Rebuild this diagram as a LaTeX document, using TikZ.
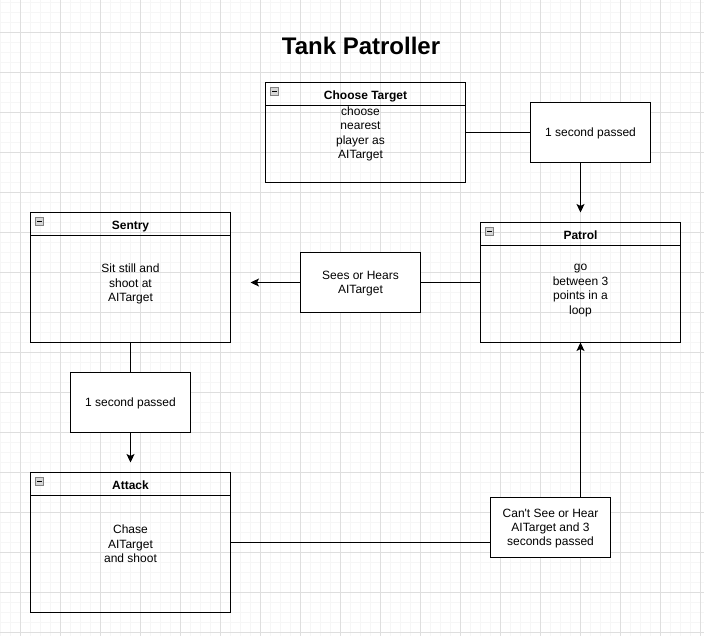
\documentclass[tikz,border=0pt]{standalone}
\usepackage{fontspec}
\setmainfont{Liberation Sans}
\usetikzlibrary{arrows.meta}
\definecolor{gridminor}{RGB}{246,246,246}
\definecolor{gridmajor}{RGB}{222,222,222}
\definecolor{iconfill}{RGB}{215,215,215}
\definecolor{iconborder}{RGB}{130,130,130}
\begin{document}
\begin{tikzpicture}[x=1pt,y=-1pt,
  lane/.style={draw, line width=1pt, minimum width=200pt, inner sep=0pt, outer sep=0pt, anchor=north west},
  lanehead/.style={font=\fontsize{12}{14.4}\selectfont\bfseries, text height=9pt, text depth=0pt, inner sep=0pt},
  lanebody/.style={font=\fontsize{12}{14.4}\selectfont, align=center, inner sep=0pt},
  trans/.style={draw, fill=white, line width=1pt, minimum width=120pt, minimum height=60pt, inner sep=0pt, outer sep=0pt, align=center, font=\fontsize{12}{14.4}\selectfont},
  transtext/.style={yshift=-1pt},
  icon/.style={draw=iconborder, fill=iconfill, line width=0.8pt, minimum size=8pt, inner sep=0pt, outer sep=0pt, anchor=north west},
  conn/.style={line width=1pt},
  arr/.style={line width=1pt, -{Stealth[length=8.5pt,width=8pt,inset=2pt]}},
  headline/.style={line width=1pt},
  minus/.style={line width=1.2pt},
]
\useasboundingbox (0,0) rectangle (704,636);
\fill[white] (0,0) rectangle (704,636);
% grid
\foreach \x in {0,10,...,700} \draw[gridminor, line width=1pt] (\x+0.5,0) -- (\x+0.5,636);
\foreach \y in {2,12,...,632} \draw[gridminor, line width=1pt] (0,\y+0.5) -- (704,\y+0.5);
\foreach \x in {20,60,...,700} \draw[gridmajor, line width=1pt] (\x+0.5,0) -- (\x+0.5,636);
\foreach \y in {32,72,...,632} \draw[gridmajor, line width=1pt] (0,\y+0.5) -- (704,\y+0.5);

% title
\node[font=\fontsize{24}{28}\selectfont\bfseries, anchor=base, inner sep=0pt] (title) at (361,55) {Tank Patroller};

% Choose Target lane
\node[lane, minimum height=100pt] (choose) at (265.5,82.5) {};
\draw[headline] ([yshift=-23pt]choose.north west) -- ([yshift=-23pt]choose.north east);
\node[icon] (chooseicon) at ([xshift=5pt,yshift=-5pt]choose.north west) {};
\draw[minus] ([xshift=-2.2pt]chooseicon.center) -- ([xshift=2.2pt]chooseicon.center);
\node[lanehead] (choosehead) at ([yshift=-12.3pt]choose.north) {Choose Target};
\node[lanebody] (choosebody) at (360.5,134) {choose\\nearest\\player as\\AITarget};

% Sentry lane
\node[lane, minimum height=130pt] (sentry) at (30.5,212.5) {};
\draw[headline] ([yshift=-23pt]sentry.north west) -- ([yshift=-23pt]sentry.north east);
\node[icon] (sentryicon) at ([xshift=5pt,yshift=-5pt]sentry.north west) {};
\draw[minus] ([xshift=-2.2pt]sentryicon.center) -- ([xshift=2.2pt]sentryicon.center);
\node[lanehead] (sentryhead) at ([yshift=-12.3pt]sentry.north) {Sentry};
\node[lanebody] (sentrybody) at (130.5,284) {Sit still and\\shoot at\\AITarget};

% Patrol lane
\node[lane, minimum height=120pt] (patrol) at (480.5,222.5) {};
\draw[headline] ([yshift=-23pt]patrol.north west) -- ([yshift=-23pt]patrol.north east);
\node[icon] (patrolicon) at ([xshift=5pt,yshift=-5pt]patrol.north west) {};
\draw[minus] ([xshift=-2.2pt]patrolicon.center) -- ([xshift=2.2pt]patrolicon.center);
\node[lanehead] (patrolhead) at ([yshift=-12.3pt]patrol.north) {Patrol};
\node[lanebody] (patrolbody) at (580.5,290.5) {go\\between 3\\points in a\\loop};

% Attack lane
\node[lane, minimum height=140pt] (attack) at (30.5,472.5) {};
\draw[headline] ([yshift=-23pt]attack.north west) -- ([yshift=-23pt]attack.north east);
\node[icon] (attackicon) at ([xshift=5pt,yshift=-5pt]attack.north west) {};
\draw[minus] ([xshift=-2.2pt]attackicon.center) -- ([xshift=2.2pt]attackicon.center);
\node[lanehead] (attackhead) at ([yshift=-12.3pt]attack.north) {Attack};
\node[lanebody] (attackbody) at (130.5,544) {Chase\\AITarget\\and shoot};

% transitions (boxes)
\node[trans] (sec1) at (590.5,132.5) {};
\node[trans] (sec2) at (130.5,402.5) {};
\node[trans] (sees) at (360.5,282.5) {};
\node[trans] (cant) at (550.5,527.5) {};
% transition labels
\node[lanebody] (sec1text) at ([yshift=-1pt]sec1.center) {1 second passed};
\node[lanebody] (sec2text) at ([yshift=-1pt]sec2.center) {1 second passed};
\node[lanebody] (seestext) at ([yshift=-1pt]sees.center) {Sees or Hears\\AITarget};
\node[lanebody] (canttext) at ([yshift=-1pt]cant.center) {Can\textquotesingle t See or Hear\\AITarget and 3\\seconds passed};

% connectors
\coordinate (patrolin) at ([yshift=10pt]patrol.north);
\coordinate (sentryin) at ([xshift=20pt]sentry.east |- sees.west);
\coordinate (attackin) at ([yshift=10pt]attack.north);
\draw[conn] (choose.east) -- (sec1.west);
\draw[arr] (sec1.south -| patrol.north) -- (patrolin);
\draw[conn] (patrol.west) -- (sees.east);
\draw[arr] (sees.west) -- (sentryin);
\draw[conn] (sentry.south) -- (sec2.north);
\draw[arr] (sec2.south) -- (attackin);
\draw[conn] (attack.east) -- (attack.east -| cant.west);
\draw[arr] (cant.north -| patrol.south) -- (patrol.south);
\end{tikzpicture}
\end{document}
